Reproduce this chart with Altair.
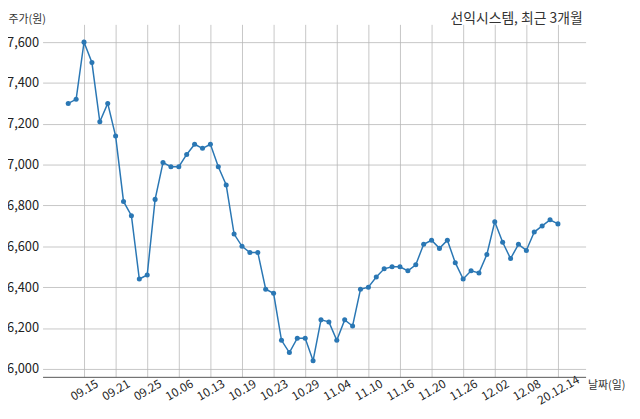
import json
import altair as alt
import pandas as pd

dates = ["09.11", "09.14", "09.15", "09.16", "09.17", "09.18", "09.21", "09.22", "09.23", "09.24",
         "09.25", "09.28", "09.29", "10.05", "10.06", "10.07", "10.08", "10.12", "10.13", "10.14",
         "10.15", "10.16", "10.19", "10.20", "10.21", "10.22", "10.23", "10.26", "10.27", "10.28",
         "10.29", "10.30", "11.02", "11.03", "11.04", "11.05", "11.06", "11.09", "11.10", "11.11",
         "11.12", "11.13", "11.16", "11.17", "11.18", "11.19", "11.20", "11.23", "11.24", "11.25",
         "11.26", "11.27", "11.30", "12.01", "12.02", "12.03", "12.04", "12.07", "12.08", "12.09",
         "12.10", "12.11", "20.12.14"]
prices = [7300, 7320, 7600, 7500, 7210, 7300, 7140, 6820, 6750, 6440,
          6460, 6830, 7010, 6990, 6990, 7050, 7100, 7080, 7100, 6990,
          6900, 6660, 6600, 6570, 6570, 6390, 6370, 6140, 6080, 6150,
          6150, 6040, 6240, 6230, 6140, 6240, 6210, 6390, 6400, 6450,
          6490, 6500, 6500, 6480, 6510, 6610, 6630, 6590, 6630, 6520,
          6440, 6480, 6470, 6560, 6720, 6620, 6540, 6610, 6580, 6670,
          6700, 6730, 6710]
tick_positions = list(range(2, len(dates), 4))
y_ticks = [6000, 6200, 6400, 6600, 6800, 7000, 7200, 7400, 7600]
title_text = "선익시스템, 최근 3개월"

df = pd.DataFrame({"idx": list(range(len(dates))), "date": dates, "price": prices})

label_expr = json.dumps(dates) + "[datum.value]"
FONT = "Noto Sans CJK KR"
BLUE = "#2a77b4"

x = alt.X("idx:Q",
          scale=alt.Scale(domain=[-3.25, 65.5], nice=False, zero=False),
          axis=alt.Axis(values=tick_positions, labelExpr=label_expr, title="날짜(일)",
                        titleAngle=0, titleX=552, titleY=9, titleAlign="left",
                        titleBaseline="middle", titleFontSize=11, titleFontWeight="normal",
                        titleColor="#333333", labelAngle=-30, labelAlign="center",
                        labelBaseline="middle", labelPadding=13, labelFontSize=12,
                        labelColor="#222222", ticks=False, domain=True,
                        domainColor="#555555", domainWidth=1, grid=True,
                        gridColor="#b8b8b8", gridWidth=0.8, labelFlush=False,
                        labelOverlap=False))
y = alt.Y("price:Q",
          scale=alt.Scale(domain=[5961, 7687], nice=False, zero=False),
          axis=alt.Axis(values=y_ticks, format=",d", title="주가(원)", titleAngle=0,
                        titleX=-35, titleY=-5, titleAlign="left", titleBaseline="middle",
                        titleFontSize=11, titleFontWeight="normal", titleColor="#333333",
                        labelFontSize=13, labelColor="#222222", labelPadding=4,
                        ticks=False, domain=False, grid=True, gridColor="#b8b8b8",
                        gridWidth=0.8))

base = alt.Chart(df)
line = base.mark_line(color=BLUE, strokeWidth=1.5).encode(x=x, y=y)
pts = base.mark_point(color=BLUE, filled=True, size=26, opacity=1).encode(x=x, y=y)
title = alt.Chart(pd.DataFrame({"t": [title_text]})).mark_text(
    align="right", baseline="middle", fontSize=14, color="#333333", font=FONT
).encode(text="t:N", x=alt.value(547), y=alt.value(-5))

chart = (line + pts + title).properties(
    width=550, height=357,
    autosize=alt.AutoSizeParams(type="none"),
    padding={"left": 35, "top": 14, "right": 47, "bottom": 30},
).configure(font=FONT).configure_view(stroke=None).configure_axis(
    labelFont=FONT, titleFont=FONT)

chart.save("out.html", embed_options={"renderer": "svg", "actions": False})
